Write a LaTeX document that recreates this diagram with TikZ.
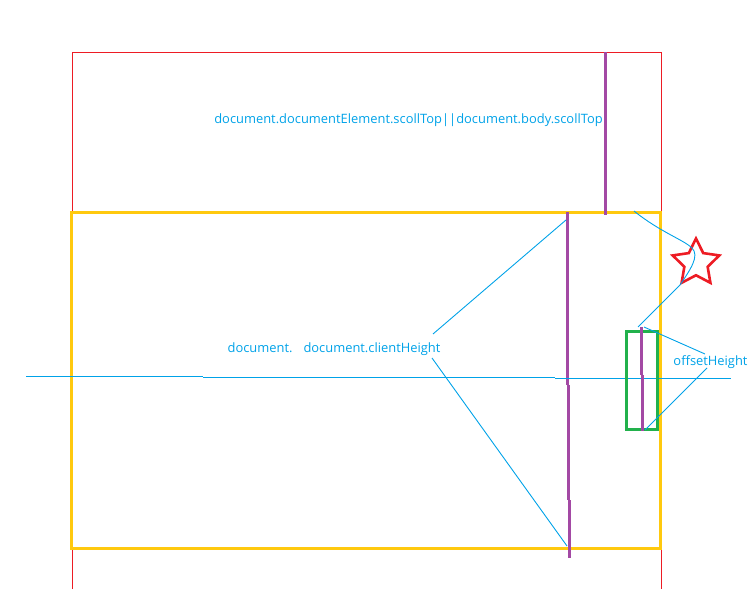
\documentclass[tikz,border=0pt]{standalone}
\usepackage{fontspec}
\setmainfont{Open Sans}
\usetikzlibrary{shapes.geometric}
\definecolor{pred}{HTML}{ED1C24}
\definecolor{pyel}{HTML}{FFC90E}
\definecolor{ppur}{HTML}{A349A4}
\definecolor{pgrn}{HTML}{22B14C}
\definecolor{pblu}{HTML}{00A2E8}
\tikzset{
  lbl/.style={text=pblu, font=\fontsize{12.9}{15}\selectfont, inner sep=0pt, anchor=center},
  thinred/.style={draw=pred, line width=1pt},
  yelbox/.style={draw=pyel, line width=3pt},
  purp/.style={draw=ppur, line width=3pt},
  grnbox/.style={draw=pgrn, line width=3pt},
  blu/.style={draw=pblu, line width=0.9pt},
}
\begin{document}
\begin{tikzpicture}[x=1pt,y=-1pt]
\useasboundingbox (0,0) rectangle (752,589);
% red outer page
\draw[thinred] (72,589) -- (72,52) -- (661,52) -- (661,589);
% yellow viewport
\draw[yelbox] (71,212) rectangle (660,548);
% purple scroll top
\draw[purp] (605,52) -- (605,215);
% purple client height
\draw[purp] (567.3,212) -- (567.3,385);
\draw[purp] (568.3,385) -- (568.3,500);
\draw[purp] (569.3,500) -- (569.3,558);
% horizontal blue line
\draw[blu] (26,376) -- (203,376);
\draw[blu] (203,377.3) -- (555,377.3);
\draw[blu] (555,378.5) -- (731,378.5);
% green box
\draw[grnbox] (626.5,331) rectangle (657.5,429);
\draw[purp] (641.3,327) -- (641.3,375);
\draw[purp] (642.3,375) -- (642.3,431);
% star
\node[star, star points=5, star point ratio=2.0, minimum size=49pt, inner sep=0pt, draw=pred, line width=2.6pt] (star) at (696,263) {};
% labels
\node[lbl] (t1) at (408.5,120) {document.documentElement.scollTop||document.body.scollTop};
\node[lbl] (t2) at (334,349) {document.\hspace{11pt}document.clientHeight};
\node[lbl] (t3) at (710.5,362) {offsetHeight};
% connector coordinates
\coordinate (c1a) at (433,334);
\coordinate (c1b) at (566,220);
\coordinate (c2a) at (432,358);
\coordinate (c2b) at (567,546);
\coordinate (s0) at (634,211);
\coordinate (s1) at (638,327);
\coordinate (o1a) at (644,327);
\coordinate (o1b) at (705,354);
\coordinate (o2a) at (707,368);
\coordinate (o2b) at (645,430);
\draw[blu] (c1a) -- (c1b);
\draw[blu] (c2a) -- (c2b);
\draw[blu] (s0) .. controls (660,232) and (684,240) .. (692,248)
  .. controls (700,256) and (690,270) .. (680,285) -- (s1);
\draw[blu] (o1a) -- (o1b);
\draw[blu] (o2a) -- (o2b);
\end{tikzpicture}
\end{document}
